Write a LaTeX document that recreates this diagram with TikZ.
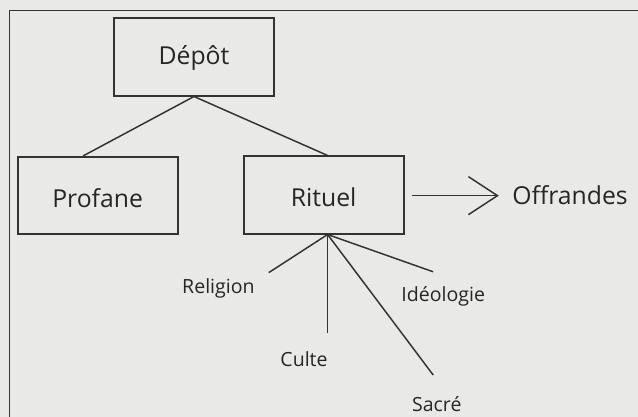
\documentclass[tikz,border=0pt]{standalone}
\usepackage{fontspec}
\setmainfont{Open Sans}
\usepackage{xcolor}
\usepackage{tikz}
\usetikzlibrary{arrows.meta,calc,positioning}

\definecolor{papier}{HTML}{E9E9E7}
\definecolor{strich}{HTML}{333333}
\definecolor{schrift}{HTML}{262626}

\tikzset{
    kasten/.style = {draw = strich, line width = 1.3pt, minimum width = 4cm, minimum height = 1.93cm,
                     text = schrift, font = \fontsize{17.6}{20}\selectfont, text height = 1.66em, text depth = 0pt},
    begriff/.style = {anchor = base, inner sep = 0pt, text = schrift, font = \fontsize{13.9}{16}\selectfont},
    linie/.style = {strich, line width = 1.05pt},
    pfeil/.style = {strich, line width = 1.05pt, -{Straight Barb[length = 0.725cm, width = 0.95cm]}}
}

\begin{document}
\begin{tikzpicture}
    % Seite
        \useasboundingbox (0, 0) rectangle (15.95, 10.425);
        \fill[papier] (0, 0) rectangle (15.95, 10.425);
        \draw[strich, line width = 1.2pt] (0.24, 0) -- (0.24, 10.16) -- (15.95, 10.16);

    % Kaesten
        \node[kasten, text height = 1.12em] (depot) at (4.85, 9.0) {Dépôt};
        \node[kasten] (profane) at (2.44, 5.54) {Profane};
        \node[kasten] (rituel) at (8.09, 5.55) {Rituel};

    % Begriffe
        \node[anchor = base west, inner sep = 0pt, text = schrift, font = \fontsize{17.6}{20}\selectfont] (offrandes) at (12.8, 5.3) {Offrandes};
        \node[begriff] (religion) at (5.46, 3.075) {Religion};
        \node[begriff] (culte) at (7.6, 1.26) {Culte};
        \node[begriff] (ideologie) at (11.08, 2.88) {Idéologie};
        \node[begriff] (sacre) at (10.92, 0.13) {Sacré};

    % Enden der Linien
        \coordinate (spitze) at ($(rituel.south) + (0.1, 0)$);
        \coordinate (religionEnde) at (6.72, 3.61);
        \coordinate (culteEnde) at (8.19, 2.11);
        \coordinate (ideologieEnde) at (10.83, 3.63);
        \coordinate (sacreEnde) at (10.83, 1.05);

    % Verbindungen
        \draw[linie] (depot.south) -- ($(profane.north) + (-0.36, 0)$);
        \draw[linie] (depot.south) -- ($(rituel.north) + (0.1, 0)$);
        \draw[linie] (spitze) -- (religionEnde);
        \draw[linie] (spitze) -- (culteEnde);
        \draw[linie] (spitze) -- (ideologieEnde);
        \draw[linie] (spitze) -- (sacreEnde);
        \draw[pfeil] ($(rituel.east |- offrandes.west) + (0.18, 0)$) -- ($(offrandes.west) + (-0.33, 0)$);
    \end{tikzpicture}
\end{document}
